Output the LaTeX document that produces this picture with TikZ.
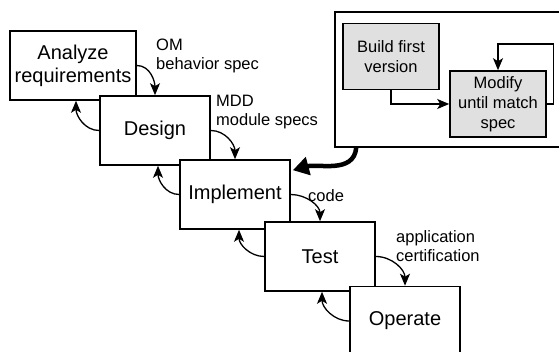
\documentclass[tikz,border=0pt]{standalone}
\usepackage{fontspec}
\setmainfont{Liberation Sans}
\usetikzlibrary{arrows.meta}
\tikzset{
  stage/.style={draw,fill=white,line width=1.6pt,minimum width=110pt,minimum height=69pt,inner sep=0pt,align=center,font=\fontsize{20}{23}\selectfont},
  proto/.style={draw,fill=black!12,line width=1.6pt,minimum width=96pt,minimum height=66pt,inner sep=0pt,align=center,font=\fontsize{16.5}{20}\selectfont},
  note/.style={anchor=north west,inner sep=0pt,align=left,font=\fontsize{16.5}{19}\selectfont},
  flow/.style={line width=1.3pt,-{Stealth[length=12pt,width=10pt,inset=3pt]}},
}
\begin{document}
\begin{tikzpicture}[x=1pt,y=-1pt]
\clip(0,0)rectangle(559,352);
% prototype frame
\node(frame)[draw,line width=1.6pt,minimum width=230pt,minimum height=135pt]at(450,79.5){};
\node(build)[proto]at(391,56.5){Build first\\version};
\node(modify)[proto]at(498,104){Modify\\until match\\spec};
\draw[flow](build.south)|-(modify.west);
\draw[flow](modify.east)--++(7,0)--++(0,-60)-|(modify.north);
%
\node(analyze)[stage,minimum width=126pt]at(73,65.5){Analyze\\requirements};
\node(design)[stage]at(155,130.5){Design};
\node(implement)[stage]at(235,194.5){Implement};
\node(test)[stage]at(320,256.5){Test};
\node(operate)[stage]at(405,321){Operate};
%
\draw[flow](analyze.east)to[out=0,in=90](design.north);
\draw[flow](design.east)to[out=0,in=90](implement.north);
\draw[flow](implement.east)to[out=0,in=90](test.north);
\draw[flow](test.east)to[out=0,in=90](operate.north);
%
\draw[flow](design.west)to[out=180,in=-90]([xshift=3pt]analyze.south);
\draw[flow](implement.west)to[out=180,in=-90]([xshift=3pt]design.south);
\draw[flow](test.west)to[out=180,in=-90]([xshift=4pt]implement.south);
\draw[flow](operate.west)to[out=180,in=-90]([xshift=2pt]test.south);
%
\node(om)[note]at(156,39){OM\\behavior spec};
\node(mdd)[note]at(216,95){MDD\\module specs};
\node(code)[note]at(308,189){code};
\node(cert)[note]at(396,230){application\\certification};
%
\draw[line width=4.5pt,-{Triangle[length=16pt,width=18pt]}]([xshift=22pt]frame.south west)to[out=-95,in=15]([xshift=2pt,yshift=-11pt]implement.north east);
\end{tikzpicture}
\end{document}
